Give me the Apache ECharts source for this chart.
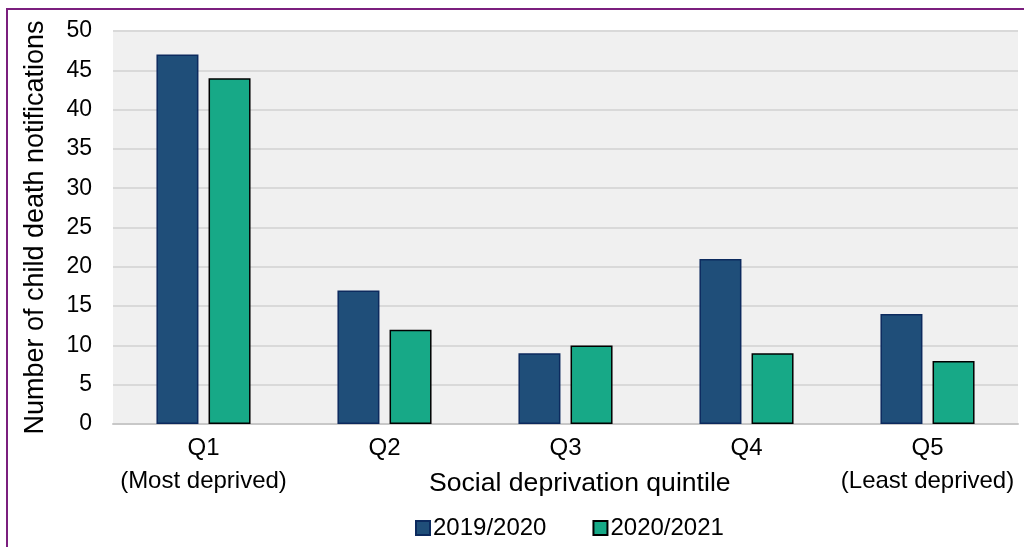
<!DOCTYPE html>
<html>
<head>
<meta charset="utf-8">
<script src="https://cdn.jsdelivr.net/npm/echarts@6/dist/echarts.min.js"></script>
<style>
  html, body { margin: 0; padding: 0; background: #ffffff; }
  #chart { width: 1024px; height: 547px; }
</style>
</head>
<body>
<div id="chart"></div>
<script>
// Child death notifications by social deprivation quintile
var categories = ['Q1\n(Most deprived)', 'Q2', 'Q3', 'Q4', 'Q5\n(Least deprived)'];
var seriesNames = ['2019/2020', '2020/2021'];
var values2019 = [47, 17, 9, 21, 14];
var values2020 = [44, 12, 10, 9, 8];
var yTicks = { min: 0, max: 50, interval: 5 };

var font = 'Liberation Sans, Arial, sans-serif';
var chart = echarts.init(document.getElementById('chart'), null, { renderer: 'canvas' });

chart.setOption({
  animation: false,
  backgroundColor: '#ffffff',
  textStyle: { fontFamily: font },
  graphic: [
    {
      type: 'rect',
      shape: { x: 7, y: 9, width: 1040, height: 560 },
      style: { fill: 'none', stroke: '#7B1F7E', lineWidth: 2 },
      z: -10
    },
    {
      type: 'text',
      left: 429, top: 470,
      style: { text: 'Social deprivation quintile', font: '26.6px ' + font, fill: '#000000' }
    }
  ],
  grid: { left: 113, right: 6, top: 31, bottom: 123, show: true, backgroundColor: '#f0f0f0', borderWidth: 0 },
  legend: {
    top: 511,
    left: 410,
    itemWidth: 14,
    itemHeight: 14,
    itemGap: 46,
    icon: 'rect',
    textStyle: { fontSize: 24, color: '#000000', fontFamily: font, padding: [0, 0, 0, -2] },
    data: seriesNames
  },
  xAxis: {
    type: 'category',
    data: categories,
    axisLine: { show: true, lineStyle: { color: '#c8c8c8', width: 2 } },
    axisTick: { show: false },
    axisLabel: { interval: 0, fontSize: 24, color: '#000000', lineHeight: 33, margin: 8, fontFamily: font }
  },
  yAxis: {
    type: 'value',
    min: yTicks.min,
    max: yTicks.max,
    interval: yTicks.interval,
    name: 'Number of child death notifications',
    nameLocation: 'middle',
    nameGap: 64,
    nameTextStyle: { fontSize: 27, color: '#000000', fontFamily: font },
    axisLine: { show: false },
    axisTick: { show: false },
    axisLabel: { fontSize: 23, color: '#000000', margin: 21, fontFamily: font },
    splitLine: { lineStyle: { color: '#d9d9d9', width: 2 } }
  },
  series: [
    {
      name: seriesNames[0],
      type: 'bar',
      data: values2019,
      barWidth: 42,
      barGap: '24%',
      itemStyle: { color: '#1F4E79', borderColor: '#0C2A5E', borderWidth: 1.5 }
    },
    {
      name: seriesNames[1],
      type: 'bar',
      data: values2020,
      barWidth: 42,
      itemStyle: { color: '#17A987', borderColor: '#000000', borderWidth: 1.5 }
    }
  ]
});
</script>
</body>
</html>
